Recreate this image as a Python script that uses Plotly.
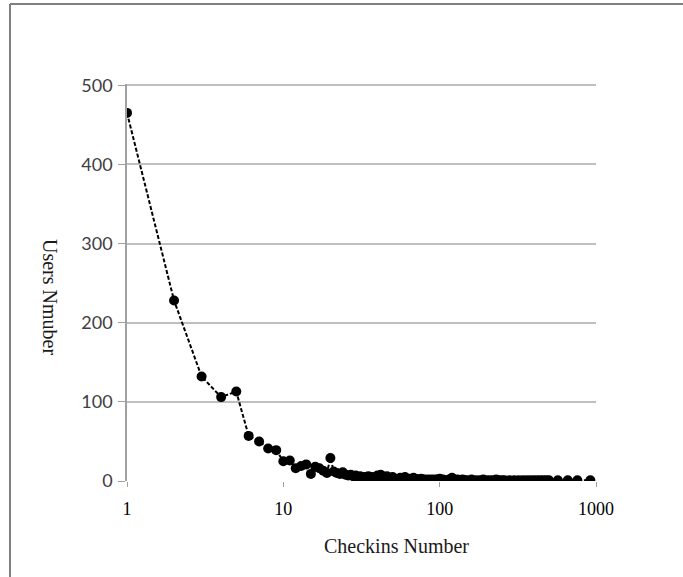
import plotly.graph_objects as go

checkins = [1, 2, 3, 4, 5, 6, 7, 8, 9, 10, 11, 12, 13, 14, 15, 16, 17, 18, 19, 20,
            21, 22, 23, 24, 25, 26, 27, 28, 29, 30, 31, 32, 33, 34, 35, 36, 37, 38, 39, 40,
            41, 42, 43, 44, 45, 46, 47, 48, 49, 50, 52, 54, 56, 58, 60, 62, 64, 66, 68, 70,
            72, 74, 76, 78, 80, 82, 84, 86, 88, 90, 92, 94, 96, 98, 100, 105, 110, 115, 120, 125,
            130, 135, 140, 145, 150, 160, 170, 180, 190, 200, 210, 220, 230, 240, 250, 260, 280, 300, 320, 340,
            360, 380, 400, 420, 440, 460, 480, 500, 570, 660, 760, 920]
users = [465, 228, 132, 106, 113, 57, 50, 41, 39, 25, 26, 16, 19, 21, 9, 18, 16, 13, 10, 29,
         12, 10, 9, 11, 8, 7, 8, 6, 7, 5, 6, 4, 5, 3, 6, 4, 5, 3, 4, 7,
         5, 8, 4, 3, 5, 6, 3, 2, 4, 5, 3, 2, 4, 3, 5, 2, 3, 2, 4, 3,
         2, 1, 3, 2, 2, 1, 2, 1, 2, 1, 2, 1, 2, 1, 3, 2, 1, 2, 4, 1,
         2, 1, 2, 1, 1, 2, 1, 1, 2, 1, 1, 1, 2, 1, 1, 1, 1, 1, 1, 1,
         1, 1, 1, 1, 1, 1, 1, 1, 1, 1, 1, 1]

x_ticks = [1, 10, 100, 1000]
y_ticks = [0, 100, 200, 300, 400, 500]

W, H = 683, 577
L, R, T, B = 127, 596, 84, 481

fig = go.Figure()
fig.add_trace(go.Scatter(
    x=checkins, y=users, mode="lines+markers",
    line=dict(color="black", width=2, dash="4px,2px"),
    marker=dict(color="black", size=10),
    showlegend=False,
))

def px_x(p):
    return (p - L) / (R - L)

def px_y(p):
    return (B - p) / (B - T)

fig.update_layout(
    width=W, height=H,
    margin=dict(l=L, r=W - R, t=T, b=H - B),
    paper_bgcolor="white", plot_bgcolor="white",
    xaxis=dict(type="log", range=[0, 3], tickvals=x_ticks, ticktext=[str(v) for v in x_ticks],
               showgrid=False, zeroline=False, showline=False,
               ticks="outside", ticklen=5, tickcolor="#a0a0a0", ticklabelstandoff=6,
               tickfont=dict(family="Liberation Serif", size=18, color="black")),
    yaxis=dict(range=[0, 501.5], tickvals=y_ticks, showgrid=True, gridcolor="#bfbfbf", gridwidth=1.5,
               zeroline=False, showline=True, linecolor="#a0a0a0", linewidth=1.5,
               ticks="outside", ticklen=7, tickcolor="#a0a0a0", ticklabelstandoff=2,
               tickfont=dict(family="Lato", size=18, color="#404040")),
    annotations=[
        dict(text="Checkins Number", xref="paper", yref="paper", x=px_x(396), y=px_y(546),
             xanchor="center", yanchor="middle",
             showarrow=False, font=dict(family="Liberation Serif", size=20, color="#1a1a1a")),
        dict(text="Users Nmuber", xref="paper", yref="paper", x=px_x(50), y=px_y(297),
             xanchor="center", yanchor="middle",
             showarrow=False, textangle=90, font=dict(family="Liberation Serif", size=20, color="#1a1a1a")),
    ],
    shapes=[
        dict(type="line", xref="paper", yref="paper", x0=px_x(10), x1=px_x(W + 5), y0=px_y(4), y1=px_y(4),
             line=dict(color="#808080", width=2)),
        dict(type="line", xref="paper", yref="paper", x0=px_x(10), x1=px_x(10), y0=px_y(4), y1=px_y(H + 5),
             line=dict(color="#808080", width=2)),
    ],
)

fig.write_html("out.html")
